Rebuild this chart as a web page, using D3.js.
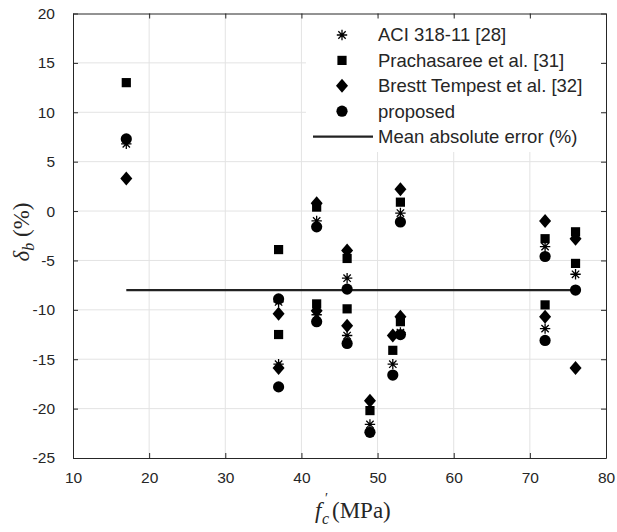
<!DOCTYPE html>
<html>
<head>
<meta charset="utf-8">
<script src="https://cdn.jsdelivr.net/npm/d3@7"></script>
<style>
  body { margin: 0; background: #fff; }
  svg { display: block; }
</style>
</head>
<body>
<div id="chart"></div>
<script>
// data: fc' (MPa) and deviation (%)
const aciFc = [17, 37, 37, 42, 42, 46, 46, 49, 52, 53, 53, 72, 72, 76];
const aciErr = [6.8, -9.2, -15.5, -1.0, -10.5, -6.8, -12.6, -21.6, -15.5, -0.2, -12.3, -3.6, -11.9, -6.4];

const pracFc = [17, 37, 37, 42, 42, 46, 46, 49, 52, 53, 53, 72, 72, 76, 76];
const pracErr = [13.0, -3.9, -12.5, 0.4, -9.4, -4.8, -9.9, -20.2, -14.1, 0.9, -11.2, -2.8, -9.5, -2.1, -5.3];

const brestFc = [17, 37, 37, 42, 42, 46, 46, 49, 52, 53, 53, 72, 72, 76, 76];
const brestErr = [3.3, -10.4, -15.9, 0.8, -10.1, -4.0, -11.6, -19.2, -12.6, 2.2, -10.7, -1.0, -10.7, -2.8, -15.9];

const propFc = [17, 37, 37, 42, 42, 46, 46, 49, 52, 53, 53, 72, 72, 76];
const propErr = [7.3, -8.9, -17.8, -1.6, -11.2, -7.9, -13.4, -22.4, -16.6, -1.1, -12.5, -4.6, -13.1, -8.0];

const meanFc = [17, 76];
const meanErr = [-8.0, -8.0];

const legendLabels = ["ACI 318-11 [28]", "Prachasaree et al. [31]", "Brestt Tempest et al. [32]", "proposed", "Mean absolute error (%)"];
const xTicks = [10, 20, 30, 40, 50, 60, 70, 80];
const yTicks = [-25, -20, -15, -10, -5, 0, 5, 10, 15, 20];

const width = 617, height = 532;
const margin = { left: 73, right: 11, top: 13.5, bottom: 74 };
const axisColor = "#262626";
const sans = "Liberation Sans, Arial, sans-serif";
const serif = "Liberation Serif, Times New Roman, serif";

const svg = d3.select("#chart").append("svg")
  .attr("width", width).attr("height", height);

const x = d3.scaleLinear().domain([10, 80]).range([margin.left, width - margin.right]);
const y = d3.scaleLinear().domain([-25, 20]).range([height - margin.bottom, margin.top]);

// grid
const grid = svg.append("g").attr("stroke", "#e3e3e3").attr("stroke-width", 1);
grid.selectAll(".gx").data(xTicks.slice(1, -1)).enter().append("line")
  .attr("x1", d => x(d)).attr("x2", d => x(d))
  .attr("y1", y(-25)).attr("y2", y(20));
grid.selectAll(".gy").data(yTicks.slice(1, -1)).enter().append("line")
  .attr("y1", d => y(d)).attr("y2", d => y(d))
  .attr("x1", x(10)).attr("x2", x(80));

// mean line
svg.append("path")
  .datum(meanFc.map((d, i) => [d, meanErr[i]]))
  .attr("fill", "none").attr("stroke", "#222").attr("stroke-width", 2.2)
  .attr("d", d3.line().x(d => x(d[0])).y(d => y(d[1])));

// marker shapes
function asterisk(r) {
  const a = r * 0.7071;
  return `M${-r},0L${r},0M0,${-r}L0,${r}M${-a},${-a}L${a},${a}M${-a},${a}L${a},${-a}`;
}
const square = "M-4.6,-4.6H4.6V4.6H-4.6Z";
const diamond = "M0,-7L6,0L0,7L-6,0Z";

function drawSeries(xs, ys, draw) {
  const g = svg.append("g");
  xs.forEach((d, i) => draw(g.append("g").attr("transform", `translate(${x(d)},${y(ys[i])})`)));
}
const drawAst = g => g.append("path").attr("d", asterisk(5.2)).attr("stroke", "#000").attr("stroke-width", 1.3).attr("fill", "none");
const drawSq = g => g.append("path").attr("d", square).attr("fill", "#000");
const drawDia = g => g.append("path").attr("d", diamond).attr("fill", "#000");
const drawCirc = g => g.append("circle").attr("r", 5.6).attr("fill", "#000");

drawSeries(aciFc, aciErr, drawAst);
drawSeries(pracFc, pracErr, drawSq);
drawSeries(brestFc, brestErr, drawDia);
drawSeries(propFc, propErr, drawCirc);

// legend with white background
const leg = svg.append("g");
leg.append("rect").attr("x", 306).attr("y", 16).attr("width", 297).attr("height", 136).attr("fill", "#fff");
const drawers = [drawAst, drawSq, drawDia, drawCirc];
legendLabels.forEach((t, i) => {
  const cy = 35 + i * 25.4;
  const mg = leg.append("g").attr("transform", `translate(342,${cy})`);
  if (i < 4) drawers[i](mg);
  else leg.append("line").attr("x1", 313).attr("x2", 373).attr("y1", cy).attr("y2", cy)
    .attr("stroke", "#222").attr("stroke-width", 2.2);
  leg.append("text").attr("x", 378).attr("y", cy).attr("dy", "0.35em")
    .attr("font-family", sans).attr("font-size", 18.5)
    .attr("fill", axisColor).text(t);
});

// axes with inward ticks on all sides
function styleAxis(g) {
  g.selectAll("path").attr("stroke", axisColor);
  g.selectAll("line").attr("stroke", axisColor);
  g.selectAll("text").attr("font-family", sans)
    .attr("font-size", 15.5).attr("fill", axisColor);
}
const fmt = d => String(d);
svg.append("g").attr("transform", `translate(0,${y(-25)})`)
  .call(d3.axisBottom(x).tickValues(xTicks).tickSize(-5).tickSizeOuter(0).tickPadding(14).tickFormat(fmt))
  .call(styleAxis);
svg.append("g").attr("transform", `translate(0,${y(20)})`)
  .call(d3.axisTop(x).tickValues(xTicks).tickSize(-5).tickSizeOuter(0).tickFormat(""))
  .call(styleAxis);
svg.append("g").attr("transform", `translate(${x(10)},0)`)
  .call(d3.axisLeft(y).tickValues(yTicks).tickSize(-5).tickSizeOuter(0).tickPadding(18).tickFormat(fmt))
  .call(styleAxis);
svg.append("g").attr("transform", `translate(${x(80)},0)`)
  .call(d3.axisRight(y).tickValues(yTicks).tickSize(-5).tickSizeOuter(0).tickFormat(""))
  .call(styleAxis);

// axis titles (pieces placed separately so the prime and subscript do not collide)
const xlab = svg.append("g").attr("font-family", serif).attr("fill", axisColor);
xlab.append("text").attr("x", 315).attr("y", 518).attr("font-size", 23).attr("font-style", "italic").text("f");
xlab.append("text").attr("x", 325).attr("y", 503).attr("font-size", 14).text("′");
xlab.append("text").attr("x", 322).attr("y", 524).attr("font-size", 16).attr("font-style", "italic").text("c");
xlab.append("text").attr("x", 332).attr("y", 518).attr("font-size", 23).text("(MPa)");

const yl = svg.append("text").attr("transform", `translate(29,232) rotate(-90)`)
  .attr("text-anchor", "middle").attr("font-family", serif).attr("font-size", 23).attr("fill", axisColor);
yl.append("tspan").attr("font-style", "italic").text("δ");
yl.append("tspan").attr("font-style", "italic").attr("font-size", 16).attr("dy", 5).text("b");
yl.append("tspan").attr("dy", -5).text(" (%)");
</script>
</body>
</html>
